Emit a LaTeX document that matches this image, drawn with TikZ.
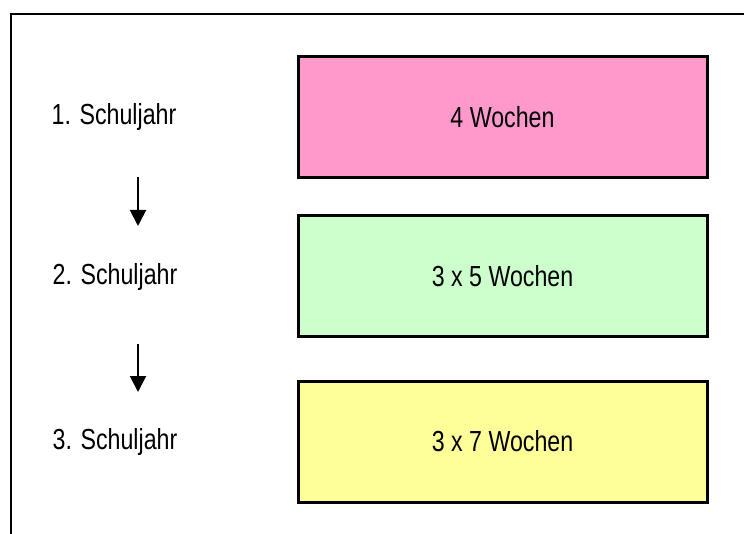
\documentclass[tikz,border=0pt]{standalone}
\usepackage{fontspec}
\setmainfont{Liberation Sans}[FakeStretch=0.80]
\usetikzlibrary{arrows.meta}
\definecolor{pinkbox}{HTML}{FF99CC}
\definecolor{greenbox}{HTML}{CCFFCC}
\definecolor{yellowbox}{HTML}{FFFF99}
\tikzset{
  yearbox/.style={draw=black, line width=3pt, minimum width=409pt, minimum height=121pt, inner sep=0pt, font=\fontsize{29}{32}\selectfont},
  yearlabel/.style={inner sep=0pt, font=\fontsize{29}{32}\selectfont},
  downarrow/.style={line width=2pt, -{Triangle[width=16pt,length=16pt]}},
  frame/.style={line width=2pt}
}
\begin{document}
\begin{tikzpicture}[x=1pt,y=-1pt]
\useasboundingbox (0,0) rectangle (744,534);
\draw[frame] (10.5,534) -- (10.5,14.5) -- (744,14.5);
\node[yearbox, fill=pinkbox] (b1) at (502.5,117.5) {4 Wochen};
\node[yearbox, fill=greenbox] (b2) at (502.5,276) {3 x 5 Wochen};
\node[yearbox, fill=yellowbox] (b3) at (502.5,441.5) {3 x 7 Wochen};
\node[yearlabel] (l1) at (114,117) {1. Schuljahr};
\node[yearlabel] (l2) at (115,277) {2. Schuljahr};
\node[yearlabel] (l3) at (115,442) {3. Schuljahr};
\coordinate (a1s) at (138,177);
\coordinate (a1e) at (138,226);
\coordinate (a2s) at (138,344);
\coordinate (a2e) at (138,392);
\draw[downarrow] (a1s) -- (a1e);
\draw[downarrow] (a2s) -- (a2e);
\end{tikzpicture}
\end{document}
